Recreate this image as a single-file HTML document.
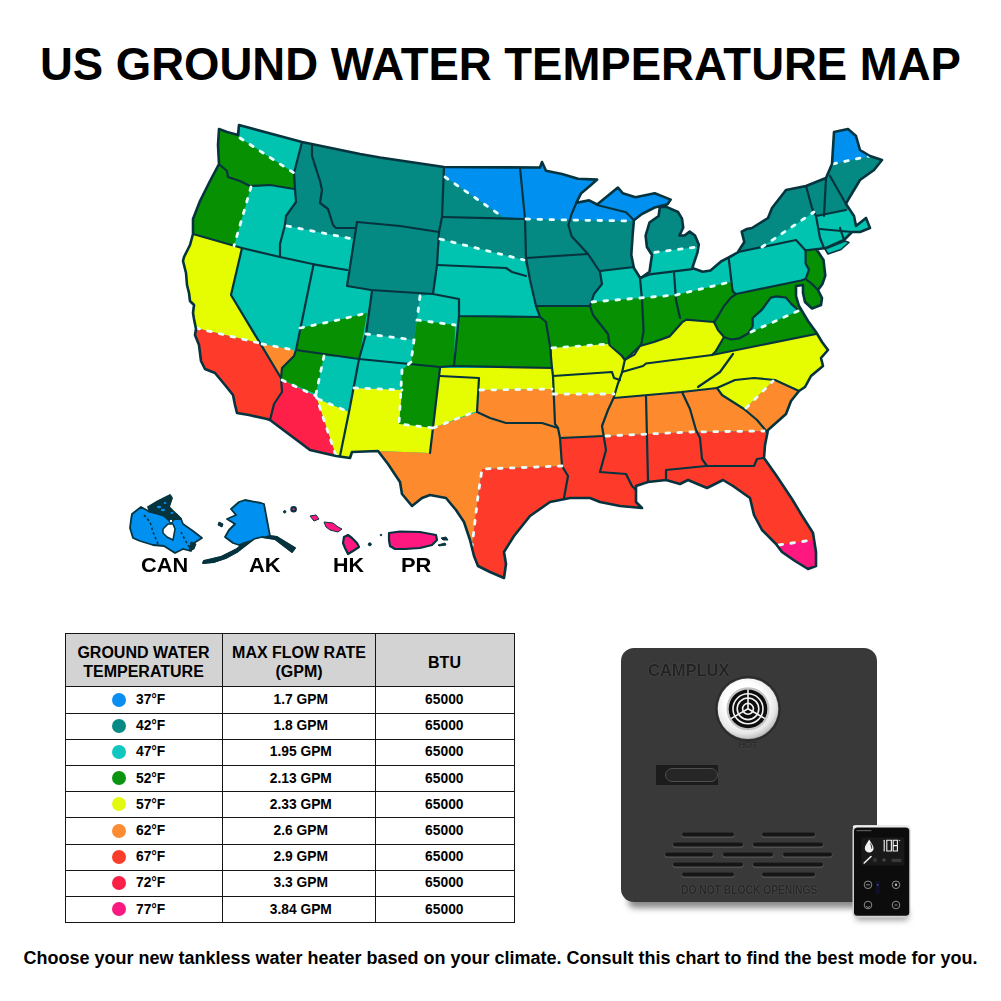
<!DOCTYPE html>
<html><head><meta charset="utf-8">
<style>
html,body{margin:0;padding:0;background:#fff;}
body{width:1001px;height:1001px;position:relative;overflow:hidden;font-family:"Liberation Sans",sans-serif;color:#000;}
.title{position:absolute;left:0;top:42px;width:1001px;text-align:center;font-weight:bold;font-size:45.5px;line-height:1;white-space:nowrap;}
.foot{position:absolute;left:0;top:949px;width:1001px;text-align:center;font-weight:bold;font-size:18px;line-height:1;white-space:nowrap;}
.lbl{position:absolute;font-weight:bold;font-size:19.5px;line-height:1;white-space:nowrap;}
.tb{position:absolute;left:65px;top:633px;width:450px;height:290px;}
.hl{position:absolute;left:0;width:450px;height:1px;background:#151515;}
.vl{position:absolute;top:0;height:290px;width:1px;background:#151515;}
.hd{position:absolute;left:1px;top:1px;width:448px;height:52px;background:#d3d3d3;}
.ht{position:absolute;font-weight:bold;font-size:16px;line-height:19px;text-align:center;white-space:nowrap;}
.cell{position:absolute;font-weight:bold;font-size:13.8px;line-height:26px;height:26px;white-space:nowrap;text-align:center;}
.dot{position:absolute;width:14px;height:14px;border-radius:50%;}
</style></head><body>
<div class="title">US GROUND WATER TEMPERATURE MAP</div>
<svg width="1001" height="1001" viewBox="0 0 1001 1001" style="position:absolute;left:0;top:0">
<defs><clipPath id="us"><polygon points="219,129 227,132 238,135 239,125 302,142 360,154 380,157.5 444,167 540,167.5 542,162 546,170.8 562,174 578,178.8 597.1,179.6 590.7,185.2 581.2,193.2 576.4,202.7 589.1,200.4 597.1,204.5 617.9,187.6 622.7,193.2 635.5,197.2 654.7,193.2 670.7,199.6 667.5,204.3 654.7,207.5 641.9,214 633.9,220.3 632.6,235.5 631.3,255 633.9,268 640.4,278.3 649.5,271.8 650.8,262.7 652,255 646.9,247 645.6,235.5 649.5,222.5 658.6,216 659.9,206.9 666.4,206.9 678,212 682,218.6 683.2,227.7 679.4,235.5 684.5,235.5 689.7,231.6 695,235.5 698.8,244.5 697.5,252.3 693.6,264 692.3,268 702.7,271.8 710.5,270.5 721,261.4 728.7,257.5 737.8,252.3 744.3,242 741.7,231.6 746.9,229 752,228 768,218 772,208 786,190 806,186 826,178 832,164 834,132 848,129 856,136 860,150 870,156 882,160 874,170 860,180 848,200 846,204 850,210 854,216 856,226 866,218 870,228 860,232 852,232 844,240 826,248 816.4,249.2 823.5,260 825.3,275.6 822.4,284 818,290 822,298 821,305 812,308.5 805,302 803,293 803,285 796,286 796,296 799,306 808,321 816,332 822,342 828,350 821,358 823,366 811,376 805,387 799,391 791,401 786,414 768,430 765,445 764,458 776,475 792,499 801,514 813,533 816,552 816,566 808,569 795,561 782,552 776,544 762,530 754,515 750,498 733,486 723,480 707,488 688,480 680,484 666,480 648,482 636,486 636,492 636,502 642,508 620,506 600,502 590,498 570,498 550,502 530,516 514,536 504,552 506,564 504,578 490,572 478,566 474,556 470,540 464,522 456,510 446,498 430,495 422,498 412,506 402,494 400,482 388,464 378,451 352,452 350,458 336,456 310,450 270,420 267,419 249,415 237,413 235,405 233,395 225,385 215,373 205,369 201,361 199,345 195,335 196,329 194,319 193,313 194,305 190,301 189,293 187,285 186,273 183,261 184,257 190,245 193,234 193,219 200,201 210,181 219,164 218,145"/></clipPath></defs>
<polygon points="219,129 227,132 238,135 239,125 302,142 360,154 380,157.5 444,167 540,167.5 542,162 546,170.8 562,174 578,178.8 597.1,179.6 590.7,185.2 581.2,193.2 576.4,202.7 589.1,200.4 597.1,204.5 617.9,187.6 622.7,193.2 635.5,197.2 654.7,193.2 670.7,199.6 667.5,204.3 654.7,207.5 641.9,214 633.9,220.3 632.6,235.5 631.3,255 633.9,268 640.4,278.3 649.5,271.8 650.8,262.7 652,255 646.9,247 645.6,235.5 649.5,222.5 658.6,216 659.9,206.9 666.4,206.9 678,212 682,218.6 683.2,227.7 679.4,235.5 684.5,235.5 689.7,231.6 695,235.5 698.8,244.5 697.5,252.3 693.6,264 692.3,268 702.7,271.8 710.5,270.5 721,261.4 728.7,257.5 737.8,252.3 744.3,242 741.7,231.6 746.9,229 752,228 768,218 772,208 786,190 806,186 826,178 832,164 834,132 848,129 856,136 860,150 870,156 882,160 874,170 860,180 848,200 846,204 850,210 854,216 856,226 866,218 870,228 860,232 852,232 844,240 826,248 816.4,249.2 823.5,260 825.3,275.6 822.4,284 818,290 822,298 821,305 812,308.5 805,302 803,293 803,285 796,286 796,296 799,306 808,321 816,332 822,342 828,350 821,358 823,366 811,376 805,387 799,391 791,401 786,414 768,430 765,445 764,458 776,475 792,499 801,514 813,533 816,552 816,566 808,569 795,561 782,552 776,544 762,530 754,515 750,498 733,486 723,480 707,488 688,480 680,484 666,480 648,482 636,486 636,492 636,502 642,508 620,506 600,502 590,498 570,498 550,502 530,516 514,536 504,552 506,564 504,578 490,572 478,566 474,556 470,540 464,522 456,510 446,498 430,495 422,498 412,506 402,494 400,482 388,464 378,451 352,452 350,458 336,456 310,450 270,420 267,419 249,415 237,413 235,405 233,395 225,385 215,373 205,369 201,361 199,345 195,335 196,329 194,319 193,313 194,305 190,301 189,293 187,285 186,273 183,261 184,257 190,245 193,234 193,219 200,201 210,181 219,164 218,145" fill="#00c3b0"/>
<g clip-path="url(#us)">
<polygon points="302,90 302,142 294,173 295,189 296,202 286,216 285,225 287,226 353,239 347,286 371,290 366,334 414,340 417,320 420,296 433,294 440,239 524,260 530,280 536,306 590,306 594,294 602,284 600,271 634,267 654.7,252.3 697.5,247 710,240 710,90" fill="#048983"/>
<polygon points="725,240 738,253 762,247 814,212 816,216 846,210 895,210 895,90 725,90" fill="#048983"/>
<polygon points="445,90 445,177 503,217 525,219 568,220 632,221 634,221.5 642.5,215 655,208.5 668,205.3 700,90" fill="#0091f0"/>
<polygon points="820,90 833,164 870,156 900,150 900,90" fill="#0091f0"/>
<polygon points="150,90 236,90 240,138 294,173 295,189 270,185 251,187 234,246 193,234 150,230" fill="#079102"/>
<polygon points="300,328 338,320 367,313 359,358 324,356 316,394 282,380 281,378 282,368 294,356 296,350" fill="#079102"/>
<polygon points="417,320 455,325 454,366 440,367 433,428 399,424 402,370 411,362 414,340" fill="#079102"/>
<polygon points="459,316 540,317 536,306 590,306 593,315 608,334 612,346 609,344 552,348 552,368 454,366" fill="#079102"/>
<polygon points="592,302 676,295 730,282 736,294 801,280.5 805.6,279 809,269.6 805.6,263.6 805.6,250.4 818,248 830,262 830,330 816,334 712,355 724,338 714,322 696,322 682,322 669.5,336.4 654,342 640,346 624.8,360 622,356 609.5,345 608,334 593,315 590,306" fill="#079102"/>
<polygon points="751,332 748,333 753,326 753,318 762,310 771,298 777,296 786,298 791,304 798,311" fill="#00c3b0"/>
<polygon points="150,220 193,234 242,248 231,295 259,343 196,328 150,328" fill="#e6fc00"/>
<polygon points="316,396 318,399 349,412 354,388 402,390 399,424 433,428 430,453 378,451 352,452 350,458 336,456" fill="#e6fc00"/>
<polygon points="440,368 552,368 552,348 609,344 612,346 622,356 624.8,360 640,346 654,342 669.5,336.4 682,322.4 686.3,319.6 701.7,321 714,322 724,338 712,355 816,334 840,340 840,391 799,391 773,381 746,408 744,409 722,395 716,388 682,392 614,398 614,394 553,394 552,389 480,390 477,412 474,412 433,428" fill="#e6fc00"/>
<polygon points="262,344 294,350 294,356 282,368 281,378" fill="#fd8b2d"/>
<polygon points="378,451 430,453 433,428 477,412 480,390 552,389 553,394 614,394 614,398 682,392 716,388 722,395 744,409 746,408 773,381 775,380 799,391 840,391 840,431 764,431 690,432 606,436 560,438 562,466 482,469 478,496 473,538 470,560 380,560" fill="#fd8b2d"/>
<polygon points="196,328 259,343 281,378 282,392 274,404 270,420 150,420 150,328" fill="#fe3a2b"/>
<polygon points="562,466 482,469 478,496 473,538 470,560 520,600 850,600 850,431 764,431 690,432 606,436 560,438" fill="#fe3a2b"/>
<polygon points="281,378 282,380 316,396 336,456 310,450 270,420 274,404 282,392" fill="#fe2048"/>
<polygon points="779,545 813,540 830,580 770,580" fill="#fe1880"/>
</g>
<g fill="none" stroke="#05333e" stroke-width="2.2" stroke-linejoin="round" stroke-linecap="round">
<polyline points="220,165 227,171 228,177 240,181 250,186 270,185 294,189"/>
<polyline points="302,142 294,173 295,189 296,202 286,216 285,225 280,244 280,257"/>
<polyline points="193,234 242,248 280,257 313.6,264.3 347,270"/>
<polyline points="312,144 312,156 320,181 322,190 320,203 328,209 333,225 336,228 356,228"/>
<polyline points="357,222 347,286 371,290 433,294 459,299 459,316 540,317"/>
<polyline points="357,222 400,226 439,232"/>
<polyline points="444,167 442,217 439,232 437,265 433,294"/>
<polyline points="442,217 524,219"/>
<polyline points="437,265 506,268 512,272 526,276"/>
<polyline points="520,167.5 525,219 526,258 530,280 536,306 540,317 546,322 550,346 552,368"/>
<polyline points="459,316 454,366"/>
<polyline points="372,291 366,334 359,359 349,412 340,456"/>
<polyline points="359,359 440,367 454,366 552,368"/>
<polyline points="440,368 430,453"/>
<polyline points="440,376 479,378 477,412"/>
<polyline points="477,412 490,418 506,423 542,423 558,428"/>
<polyline points="552,368 553,376 555,424 558,428 560,438 562,466 568,476 564,498"/>
<polyline points="526,258 588,254"/>
<polyline points="576.4,202.7 571.6,214 568.4,225 571.6,236.3 588,254 600,272 602,284 594,294 590,306 593,315 608,334 609.5,345 622,356 624.8,360 622,372.7 617.8,384 613.6,398 608,410 602,426 606,450 600,472 626,474 632,486 636,490"/>
<polyline points="536,306 590,306"/>
<polyline points="600,271 634,267"/>
<polyline points="640,278 642,300 643.6,330.8 641.5,343.4 634.5,354.5 626,359"/>
<polyline points="640.4,278 649.5,274.4 692.3,269.2"/>
<polyline points="674,273 676,300 680,318"/>
<polyline points="624.8,360 640,346 654,342 669.5,336.4 682,322.4 686.3,319.6 701.7,321 714,322"/>
<polyline points="728.7,258 732.6,291.3 736,294 731,297.6 724,306 717,318 714,322"/>
<polyline points="736,294 801,280.5 805.6,279 809,269.6 805.6,263.6 805.6,250.4"/>
<polyline points="805.6,279 812,284 818,290"/>
<polyline points="622,372 643,366 646,363.5 712,355"/>
<polyline points="614,398 682,392 717,388"/>
<polyline points="714,322 718,330 724,337 715.6,351.5 712,355"/>
<polyline points="724,337 731,339.5 739.6,338.3 748,333.5 752.7,326.3 752.7,318 762,309.6 770.7,297.6 776.7,296.4 786,297.6 791,303.6 798,310"/>
<polyline points="712,355 816,334"/>
<polyline points="733,354 720,372 698,387"/>
<polyline points="717,388 735,380 754,378 775,380 799,391"/>
<polyline points="717,388 722,395 744,409 757,420 767,432"/>
<polyline points="682,392 690,409 696,430 700,438 702,459 707,466"/>
<polyline points="646,396 648,481"/>
<polyline points="560,438 604,436"/>
<polyline points="553,376 612,372 614,378 620,380"/>
<polyline points="666,480 666,470 706,466 754,466 757,459 763,458"/>
<polyline points="738,252 796,240 805.6,250.4 816.4,249.2"/>
<polyline points="806,186 812,208 816,216 820,238 824,248"/>
<polyline points="826,178 824,216"/>
<polyline points="830,176 846,204"/>
<polyline points="816,216 846,210"/>
<polyline points="820,229 852,232"/>
<polyline points="840,228 844,240"/>
<polyline points="597,205 626,212.3 634,220.3"/>
<polyline points="313.6,264.3 296,350"/>
<polyline points="242,248 231,295 281,378"/>
<polyline points="296,350 294,356 282,368 281,378 282,392 274,404 270,420"/>
<polyline points="296,350 359,359"/>
</g>
<g fill="none" stroke="#e8ffff" stroke-width="2.8" stroke-dasharray="3.6 8.4" stroke-linecap="round">
<polyline points="240,138 294,173"/>
<polyline points="251,187 234,246"/>
<polyline points="287,226 353,239"/>
<polyline points="196,328 259,343"/>
<polyline points="262,344 294,350"/>
<polyline points="300,328 338,320 367,313"/>
<polyline points="324,356 316,394"/>
<polyline points="282,380 316,396 336,456"/>
<polyline points="318,399 349,412"/>
<polyline points="354,388 402,390"/>
<polyline points="411,362 402,370 399,424 433,428"/>
<polyline points="366,334 414,340 411,362"/>
<polyline points="420,296 417,320 455,325"/>
<polyline points="445,177 503,217"/>
<polyline points="440,239 524,260"/>
<polyline points="526,219 568,220 632,221"/>
<polyline points="654.7,252.3 697.5,247"/>
<polyline points="552,348 609,344"/>
<polyline points="592,302 676,295 730,282"/>
<polyline points="762,247 814,212"/>
<polyline points="833,164 870,156"/>
<polyline points="751,332 798,311"/>
<polyline points="433,428 474,412"/>
<polyline points="480,390 552,389"/>
<polyline points="553,394 614,394"/>
<polyline points="562,466 482,469 478,496 473,538 472,546"/>
<polyline points="606,436 690,432 764,431"/>
<polyline points="746,408 773,381"/>
<polyline points="779,545 813,540"/>
</g>
<polygon points="219,129 227,132 238,135 239,125 302,142 360,154 380,157.5 444,167 540,167.5 542,162 546,170.8 562,174 578,178.8 597.1,179.6 590.7,185.2 581.2,193.2 576.4,202.7 589.1,200.4 597.1,204.5 617.9,187.6 622.7,193.2 635.5,197.2 654.7,193.2 670.7,199.6 667.5,204.3 654.7,207.5 641.9,214 633.9,220.3 632.6,235.5 631.3,255 633.9,268 640.4,278.3 649.5,271.8 650.8,262.7 652,255 646.9,247 645.6,235.5 649.5,222.5 658.6,216 659.9,206.9 666.4,206.9 678,212 682,218.6 683.2,227.7 679.4,235.5 684.5,235.5 689.7,231.6 695,235.5 698.8,244.5 697.5,252.3 693.6,264 692.3,268 702.7,271.8 710.5,270.5 721,261.4 728.7,257.5 737.8,252.3 744.3,242 741.7,231.6 746.9,229 752,228 768,218 772,208 786,190 806,186 826,178 832,164 834,132 848,129 856,136 860,150 870,156 882,160 874,170 860,180 848,200 846,204 850,210 854,216 856,226 866,218 870,228 860,232 852,232 844,240 826,248 816.4,249.2 823.5,260 825.3,275.6 822.4,284 818,290 822,298 821,305 812,308.5 805,302 803,293 803,285 796,286 796,296 799,306 808,321 816,332 822,342 828,350 821,358 823,366 811,376 805,387 799,391 791,401 786,414 768,430 765,445 764,458 776,475 792,499 801,514 813,533 816,552 816,566 808,569 795,561 782,552 776,544 762,530 754,515 750,498 733,486 723,480 707,488 688,480 680,484 666,480 648,482 636,486 636,492 636,502 642,508 620,506 600,502 590,498 570,498 550,502 530,516 514,536 504,552 506,564 504,578 490,572 478,566 474,556 470,540 464,522 456,510 446,498 430,495 422,498 412,506 402,494 400,482 388,464 378,451 352,452 350,458 336,456 310,450 270,420 267,419 249,415 237,413 235,405 233,395 225,385 215,373 205,369 201,361 199,345 195,335 196,329 194,319 193,313 194,305 190,301 189,293 187,285 186,273 183,261 184,257 190,245 193,234 193,219 200,201 210,181 219,164 218,145" fill="none" stroke="#05333e" stroke-width="2.6" stroke-linejoin="round"/>
<polygon points="825,249 834,245.5 845,241 849,242.5 841,249.5 828,254" fill="#00c3b0" stroke="#05333e" stroke-width="1.6" stroke-linejoin="round"/>
<g stroke="#05333e" stroke-width="1.8" stroke-linejoin="round">
<polygon points="132,514 141,507 150,512 158,510 164,515 171,517 176,514 181,519 183,524 193,531 202,538 194,543 191,551 183,549 175,553 164,546 153,545 140,541 133,538 130,528 131,520" fill="#0091f0"/>
<polygon points="148,507 158,501 170,495 172,498 169,507 176,514 181,519 176,519 170,521 164,516 158,514 150,512" fill="#05333e"/>
<g fill="#0091f0" stroke="none"><ellipse cx="159" cy="507" rx="2.2" ry="1.2"/><ellipse cx="165" cy="503" rx="1.5" ry="1"/><ellipse cx="163" cy="510" rx="2" ry="1.2"/><ellipse cx="172" cy="513" rx="1.6" ry="1"/></g>
<polygon points="163,529 168,524 173,524 175,529 173,540 167,537 163,533" fill="#ffffff" stroke-width="1.5"/>
<circle cx="171" cy="521" r="1.8" fill="#ffffff" stroke-width="1.2"/>
<g fill="none" stroke-width="1.6" stroke-dasharray="2.5 2.5"><path d="M144 515 L150 522 L153 532 L158 544"/><path d="M181 532 L185 540 L190 548"/></g>
<polygon points="191,542 196,544 194,549 189,551" fill="#05333e" stroke-width="1"/>
<polygon points="239,502 245,500 261,503 264,504 270,536 277,537 295,548 292,552 275,539 262,537 254,539 246,545 237,552 226,558 214,562 203,563 204,561 221,557 237,549 244,543 239,545 233,543 225,537 229,530 235,524 227,519 236,515 231,509" fill="#0091f0"/>
<polygon points="268,536 277,537 295,548 292,552 275,539 265,537.5" fill="#05333e" stroke-width="1.4"/>
<polygon points="250,541 246,545 237,552 226,558 214,562 203,563 204,561 221,557 237,549 244,543" fill="#05333e" stroke-width="1.4"/>
<g fill="#fe1880" stroke-width="2.2">
<polygon points="344,537 348,535 352,538 357,543 359,547 353,551 348,554 345,548 343,543"/>
<polygon points="389,533 400,531.5 420,532 436,535 437,540 432,545 420,548 405,549 395,549 390,546 389,540"/>
<circle cx="293.6" cy="509.2" r="2.2"/>
</g>
<g fill="#05333e" stroke-width="1">
<polygon fill="#fe1880" points="310,516 316,515 319,519 314,521"/><polygon fill="#fe1880" points="324,522 333,523 338,527 342,529 338,532 330,530 326,527"/>
<circle cx="284.7" cy="511.8" r="1.2"/><circle cx="369.8" cy="544.3" r="1.5"/><circle cx="381" cy="535" r="0.8"/>
<polygon points="441,538 446,537 448,540 443,540"/><polygon points="438,545 445,543 446,545 439,546"/>
<polygon points="219,522 223,524 222,527 218,525"/>
</g></g>
</svg>
<div class="lbl" style="left:141px;top:555.5px;transform:scaleX(1.115);transform-origin:0 0">CAN</div>
<div class="lbl" style="left:249px;top:555.5px;transform:scaleX(1.12);transform-origin:0 0">AK</div>
<div class="lbl" style="left:332.5px;top:555.5px;transform:scaleX(1.1);transform-origin:0 0">HK</div>
<div class="lbl" style="left:401px;top:555.5px;transform:scaleX(1.12);transform-origin:0 0">PR</div>
<div class="tb">
  <div class="hd"></div>
  <div class="hl" style="top:0"></div>
  <div class="hl" style="top:53px"></div>
  <div class="hl" style="top:79.5px"></div>
  <div class="hl" style="top:105.7px"></div>
  <div class="hl" style="top:131.9px"></div>
  <div class="hl" style="top:158.1px"></div>
  <div class="hl" style="top:184.4px"></div>
  <div class="hl" style="top:210.6px"></div>
  <div class="hl" style="top:236.8px"></div>
  <div class="hl" style="top:263.0px"></div>
  <div class="hl" style="top:289.2px"></div>
  <div class="vl" style="left:0"></div>
  <div class="vl" style="left:157px"></div>
  <div class="vl" style="left:309.5px"></div>
  <div class="vl" style="left:449px"></div>
  <div class="ht" style="left:0;width:157px;top:10px">GROUND WATER<br>TEMPERATURE</div>
  <div class="ht" style="left:158px;width:152px;top:10px">MAX FLOW RATE<br>(GPM)</div>
  <div class="ht" style="left:310px;width:139px;top:19.5px">BTU</div>
  <div class="dot" style="left:46.7px;top:59.6px;background:#0a8ff0"></div>
  <div class="cell" style="left:71px;top:53.9px;text-align:left">37°F</div>
  <div class="cell" style="left:185.8px;width:100px;top:53.9px">1.7 GPM</div>
  <div class="cell" style="left:329.3px;width:100px;top:53.9px">65000</div>
  <div class="dot" style="left:46.7px;top:85.8px;background:#078a84"></div>
  <div class="cell" style="left:71px;top:80.1px;text-align:left">42°F</div>
  <div class="cell" style="left:185.8px;width:100px;top:80.1px">1.8 GPM</div>
  <div class="cell" style="left:329.3px;width:100px;top:80.1px">65000</div>
  <div class="dot" style="left:46.7px;top:112.0px;background:#10c6c0"></div>
  <div class="cell" style="left:71px;top:106.3px;text-align:left">47°F</div>
  <div class="cell" style="left:185.8px;width:100px;top:106.3px">1.95 GPM</div>
  <div class="cell" style="left:329.3px;width:100px;top:106.3px">65000</div>
  <div class="dot" style="left:46.7px;top:138.2px;background:#0a9410"></div>
  <div class="cell" style="left:71px;top:132.5px;text-align:left">52°F</div>
  <div class="cell" style="left:185.8px;width:100px;top:132.5px">2.13 GPM</div>
  <div class="cell" style="left:329.3px;width:100px;top:132.5px">65000</div>
  <div class="dot" style="left:46.7px;top:164.4px;background:#e2fa10"></div>
  <div class="cell" style="left:71px;top:158.7px;text-align:left">57°F</div>
  <div class="cell" style="left:185.8px;width:100px;top:158.7px">2.33 GPM</div>
  <div class="cell" style="left:329.3px;width:100px;top:158.7px">65000</div>
  <div class="dot" style="left:46.7px;top:190.7px;background:#fb8c34"></div>
  <div class="cell" style="left:71px;top:185.0px;text-align:left">62°F</div>
  <div class="cell" style="left:185.8px;width:100px;top:185.0px">2.6 GPM</div>
  <div class="cell" style="left:329.3px;width:100px;top:185.0px">65000</div>
  <div class="dot" style="left:46.7px;top:216.9px;background:#fb3d2b"></div>
  <div class="cell" style="left:71px;top:211.2px;text-align:left">67°F</div>
  <div class="cell" style="left:185.8px;width:100px;top:211.2px">2.9 GPM</div>
  <div class="cell" style="left:329.3px;width:100px;top:211.2px">65000</div>
  <div class="dot" style="left:46.7px;top:243.1px;background:#fa2048"></div>
  <div class="cell" style="left:71px;top:237.4px;text-align:left">72°F</div>
  <div class="cell" style="left:185.8px;width:100px;top:237.4px">3.3 GPM</div>
  <div class="cell" style="left:329.3px;width:100px;top:237.4px">65000</div>
  <div class="dot" style="left:46.7px;top:269.3px;background:#f81a80"></div>
  <div class="cell" style="left:71px;top:263.6px;text-align:left">77°F</div>
  <div class="cell" style="left:185.8px;width:100px;top:263.6px">3.84 GPM</div>
  <div class="cell" style="left:329.3px;width:100px;top:263.6px">65000</div>
</div>
<div style="position:absolute;left:628px;top:894px;width:244px;height:14px;background:#8a8a8a;border-radius:8px;filter:blur(3px);"></div>
<div style="position:absolute;left:856px;top:910px;width:52px;height:10px;background:#9a9a9a;filter:blur(3px);"></div>
<div style="position:absolute;left:620.5px;top:647.5px;width:256.5px;height:254px;border-radius:13px;background:#393939;overflow:hidden;">
  <div style="position:absolute;left:27.5px;top:14.5px;font-weight:bold;font-size:17px;line-height:1;color:#222222;text-shadow:0 0 1.2px #6a6a6a;white-space:nowrap;transform:scaleX(0.97);transform-origin:0 0;">CAMPLUX</div>
  <div style="position:absolute;left:118px;top:92px;font-size:9px;color:#262626;text-shadow:0 1px 0 #474747;">HOT</div>
  <div style="position:absolute;left:35px;top:117px;width:62px;height:20px;background:#1c1c1c;"></div>
  <div style="position:absolute;left:44px;top:120.5px;width:51px;height:12px;border-radius:7px;border:1px solid #4d4d4d;background:#262626;"></div>
  <div style="position:absolute;left:60px;top:235px;width:171px;font-weight:bold;font-size:13px;line-height:1;color:#262626;text-shadow:0 0 1.5px #606060;white-space:nowrap;transform:scaleX(0.79);transform-origin:0 0;">DO NOT BLOCK OPENINGS</div>
</div>
<svg width="1001" height="1001" style="position:absolute;left:0;top:0">
  <defs>
    <radialGradient id="ring" cx="0.45" cy="0.4" r="0.6">
      <stop offset="0.55" stop-color="#ffffff"/><stop offset="0.85" stop-color="#e6e6e6"/><stop offset="1" stop-color="#bdbdbd"/>
    </radialGradient>
  </defs>
  <circle cx="748" cy="708.8" r="32" fill="none" stroke="#2a2a2a" stroke-width="1.5"/>
  <circle cx="748" cy="708.8" r="30.3" fill="url(#ring)"/>
  <circle cx="748" cy="708.8" r="20.5" fill="none" stroke="#c4c4c4" stroke-width="2"/>
  <circle cx="748" cy="708.8" r="19.4" fill="#0d0d0d"/>
  <g fill="none" stroke="#f2f2f2" stroke-width="1.6">
    <circle cx="748" cy="708.8" r="5.4"/><circle cx="748" cy="708.8" r="10.8"/><circle cx="748" cy="708.8" r="15"/>
    <path d="M748 708.8 V689.5 M748 708.8 L731 718.6 M748 708.8 L765 718.6"/>
  </g>
  <g stroke-linecap="round" stroke-width="5" stroke="#575757">
    <path d="M684 835.3H732M764 835.3H813M675 845.3H741M755 845.3H821M667 855.3H711M725 855.3H771M785 855.3H830M675 865.3H741M755 865.3H821M684 875.3H732M764 875.3H813"/>
  </g>
  <g stroke-linecap="round" stroke-width="4" stroke="#151515">
    <path d="M684 834.5H732M764 834.5H813M675 844.5H741M755 844.5H821M667 854.5H711M725 854.5H771M785 854.5H830M675 864.5H741M755 864.5H821M684 874.5H732M764 874.5H813"/>
  </g>
  <!-- controller -->
  <rect x="852.5" y="825.3" width="58" height="92.5" rx="5" fill="#cfcfcf"/>
  <rect x="852.8" y="825.3" width="57.4" height="3" rx="1.5" fill="#eeeeee"/>
  <rect x="854" y="827.6" width="55.2" height="88.2" rx="3.5" fill="#0c0c0c"/>
  <rect x="856.5" y="830" width="15" height="1.2" fill="#5a5a5a"/>
  <rect x="861.4" y="837.5" width="43" height="28" fill="#191919"/>
  <path d="M869.2 839.6 C867.2 843 864.8 846 864.8 848.2 A4.4 4.4 0 0 0 873.6 848.2 C873.6 846 871.2 843 869.2 839.6Z" fill="#f2f2f2"/>
  <path d="M870.4 843.5 C871.2 845 872 846.5 871.6 848.6" stroke="#191919" stroke-width="0.9" fill="none"/>
  <g fill="none" stroke="#f0f0f0" stroke-width="1.1" stroke-linecap="round">
    <path d="M884.2 840.2V851"/>
    <path d="M886.8 840.2H891.4V851H886.8Z"/>
    <path d="M893.2 840.2H897.4V851H893.2Z M893.2 845.6H897.4"/>
  </g>
  <circle cx="899.5" cy="840.5" r="0.8" fill="#bbb"/>
  <path d="M864.2 863 L871 856.5" stroke="#f2f2f2" stroke-width="1.6" stroke-linecap="round"/>
  <circle cx="875" cy="860" r="2.2" fill="#333"/>
  <circle cx="884" cy="860" r="1.8" fill="#444"/>
  <rect x="891.5" y="858.8" width="10" height="3.2" rx="1" fill="#3a3a3a"/>
  <rect x="876" y="881" width="3.5" height="13" fill="#10102a"/>
  <g fill="none" stroke="#9a9a9a" stroke-width="0.9">
    <circle cx="868" cy="884.8" r="3.8"/><circle cx="896" cy="884.8" r="3.8"/><circle cx="868" cy="905" r="3.8"/><circle cx="896" cy="905" r="3.8"/>
    <path d="M866 884.8H870 M866.2 906.2 A2 2 0 0 0 869.8 906.2 M894.5 905H897.5"/>
  </g>
  <circle cx="896" cy="884.8" r="1.2" fill="#bbb"/>
  <circle cx="877.7" cy="884.8" r="0.9" fill="#4a4ab0"/>
</svg>

<div class="foot">Choose your new tankless water heater based on your climate. Consult this chart to find the best mode for you.</div>
</body></html>
